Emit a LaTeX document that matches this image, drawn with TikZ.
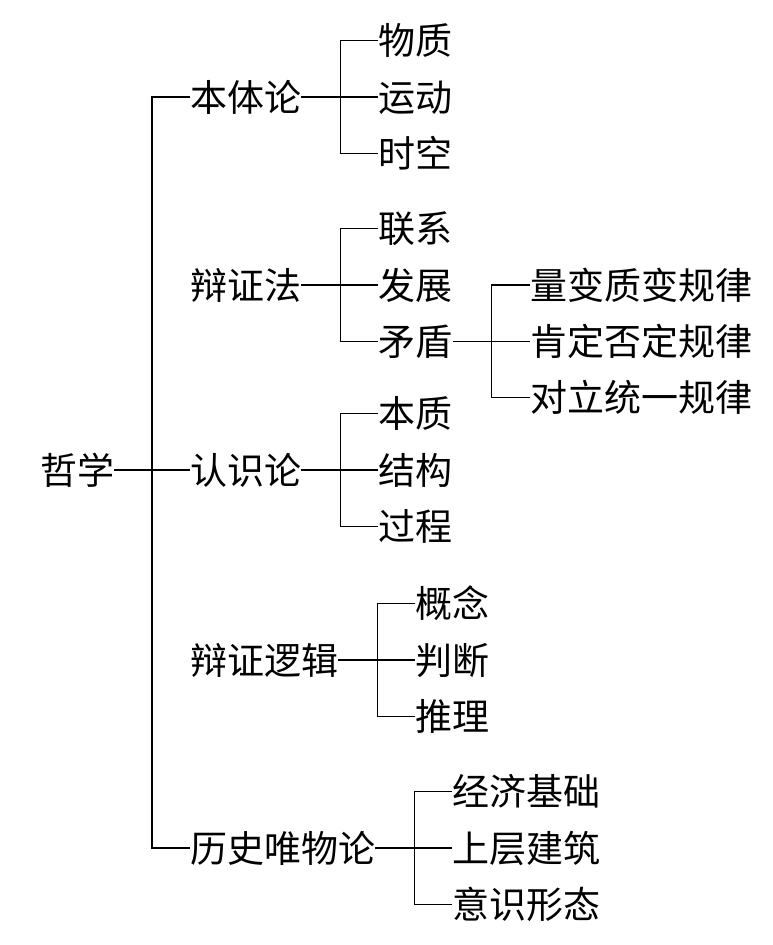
\documentclass[tikz,border=0pt]{standalone}
\usepackage{fontspec}
\setmainfont{Noto Sans CJK SC}
\usepackage{tikz}
\usetikzlibrary{positioning}
\tikzstyle{item} = [inner sep=0pt, font=\fontsize{37pt}{40pt}\selectfont,
    text height=32.5pt, text depth=4.5pt]
\tikzstyle{link} = [line width=1.3pt]

\begin{document}
\begin{tikzpicture}[x=1pt, y=-1pt, node distance=19pt and 77pt]
  \useasboundingbox (0,0) rectangle (773,945);

  \node (zhexue)  [item, anchor=west] at (40,470)  {哲学};
  \node (benti)   [item, anchor=west] at (190,97)  {本体论};
  \node (bianzh)  [item, anchor=west] at (190,285) {辩证法};
  \node (renshi)  [item, anchor=west] at (190,470) {认识论};
  \node (luoji)   [item, anchor=west] at (190,660) {辩证逻辑};
  \node (lishi)   [item, anchor=west] at (190,848) {历史唯物论};

  \node (yundong) [item, right=of benti]    {运动};
  \node (wuzhi)   [item, above=of yundong]  {物质};
  \node (shikong) [item, below=of yundong]  {时空};

  \node (fazhan)  [item, right=of bianzh]   {发展};
  \node (lianxi)  [item, above=of fazhan]   {联系};
  \node (maodun)  [item, below=of fazhan]   {矛盾};

  \node (kending) [item, right=of maodun]   {肯定否定规律};
  \node (liangbian) [item, above=of kending] {量变质变规律};
  \node (duili)   [item, below=of kending]  {对立统一规律};

  \node (jiegou)  [item, right=of renshi]   {结构};
  \node (benzhi)  [item, above=of jiegou]   {本质};
  \node (guocheng) [item, below=of jiegou]  {过程};

  \node (panduan) [item, right=of luoji]    {判断};
  \node (gainian) [item, above=of panduan]  {概念};
  \node (tuili)   [item, below=of panduan]  {推理};

  \node (shangceng) [item, right=of lishi]  {上层建筑};
  \node (jingji)  [item, above=of shangceng] {经济基础};
  \node (yishi)   [item, below=of shangceng] {意识形态};

  \draw[link] (zhexue) -- (renshi);
  \draw[link] (benti.west) -- ++(-38,0) |- (lishi.west);

  \draw[link] (benti) -- (yundong);
  \draw[link] (wuzhi.west) -- ++(-38,0) |- (shikong.west);

  \draw[link] (bianzh) -- (fazhan);
  \draw[link] (lianxi.west) -- ++(-38,0) |- (maodun.west);

  \draw[link] (maodun) -- (kending);
  \draw[link] (liangbian.west) -- ++(-38,0) |- (duili.west);

  \draw[link] (renshi) -- (jiegou);
  \draw[link] (benzhi.west) -- ++(-38,0) |- (guocheng.west);

  \draw[link] (luoji) -- (panduan);
  \draw[link] (gainian.west) -- ++(-38,0) |- (tuili.west);

  \draw[link] (lishi) -- (shangceng);
  \draw[link] (jingji.west) -- ++(-38,0) |- (yishi.west);
\end{tikzpicture}
\end{document}
